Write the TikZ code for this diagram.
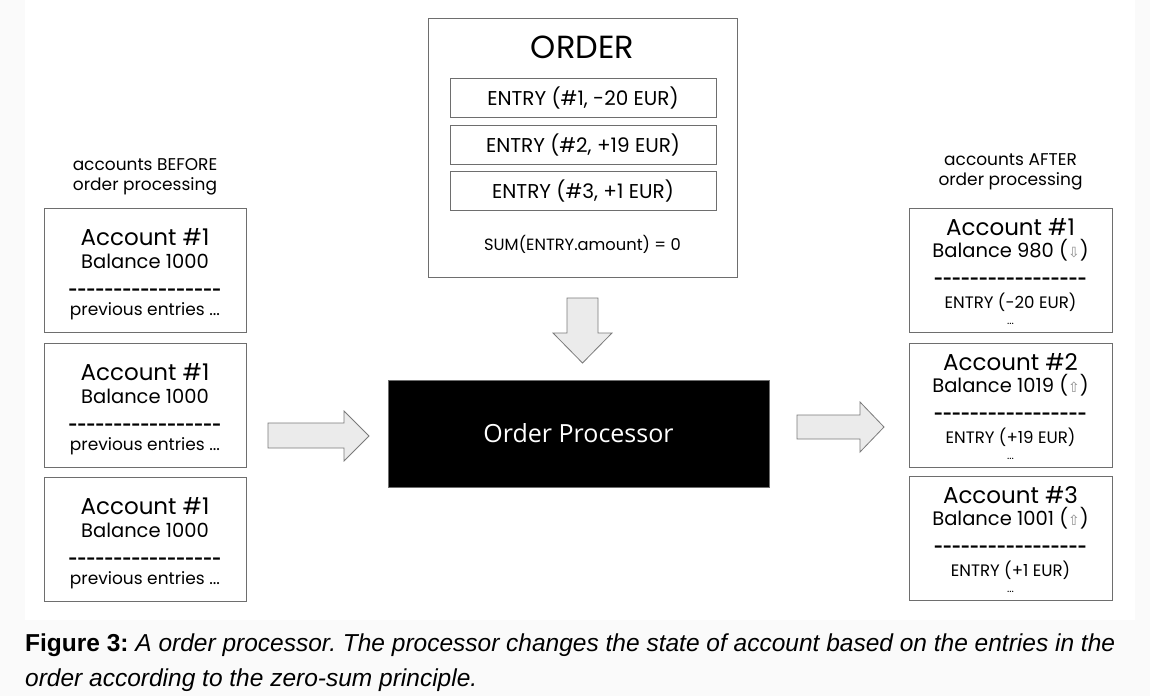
\documentclass[tikz,border=0pt]{standalone}
\usepackage{fontspec}
\setmainfont{Liberation Sans}
\newfontfamily\diagfont{Poppins}
\newfontfamily\procfont{Open Sans}
\newfontfamily\symfont{DejaVu Sans}
\definecolor{boxgrey}{HTML}{6E6E6E}
\definecolor{arrowgrey}{HTML}{7A7A7A}
\definecolor{arrowfill}{HTML}{EBEBEB}
\definecolor{pagegrey}{HTML}{FAFAFA}
\newcommand{\fsz}[1]{\fontsize{#1}{#1}\selectfont}
\newcommand{\dashrow}{-----------------}
\frenchspacing

\begin{document}
\begin{tikzpicture}[x=1pt, y=-1pt,
    acctbox/.style={draw=boxgrey, line width=1pt, fill=white, minimum width=202pt, minimum height=124pt, inner sep=0pt},
    entrybox/.style={draw=boxgrey, line width=1pt, minimum width=266pt, minimum height=39pt, inner sep=0pt},
    txt/.style={inner sep=0pt, anchor=base},
    blockarrow/.style={draw=arrowgrey, fill=arrowfill, line width=0.8pt, line join=miter}]
    \useasboundingbox (0,0) rectangle (1150,696);
    \fill[pagegrey] (0,0) rectangle (1150,696);
    \fill[white] (25,0) rectangle (1135,620);

    % accounts before
    \node[txt, font=\diagfont\fsz{17}] (beforelbl1) at (145,170) {accounts BEFORE};
    \node[txt, font=\diagfont\fsz{17}] (beforelbl2) at (145,190) {order processing};
    \foreach \i/\t in {1/208,2/343,3/477} {
        \node[acctbox] (before\i) at (145,\t+62) {};
        \node[txt, font=\diagfont\fsz{23}] (bname\i) at (145,\t+37) {Account \#1};
        \node[txt, font=\diagfont\fsz{19.5}] (bbal\i) at (145,\t+60) {Balance 1000};
        \node[txt, font=\diagfont\bfseries\fsz{15.5}] (bline\i) at (145,\t+87) {\dashrow};
        \node[txt, font=\diagfont\fsz{17}] (bprev\i) at (145,\t+107) {previous entries ...};
    }

    % order
    \node[draw=boxgrey, line width=1pt, minimum width=309pt, minimum height=259pt, inner sep=0pt] (order) at (582.5,147.5) {};
    \node[txt, font=\diagfont\fsz{32}] (ordertitle) at (582.5,58) {ORDER};
    \node[entrybox] (entry1) at (583,98) {};
    \node[entrybox] (entry2) at (583,145) {};
    \node[entrybox] (entry3) at (583,191) {};
    \node[font=\diagfont\fsz{20}, inner sep=0pt] at (entry1) {ENTRY (\#1, -20 EUR)};
    \node[font=\diagfont\fsz{20}, inner sep=0pt] at (entry2) {ENTRY (\#2, +19 EUR)};
    \node[font=\diagfont\fsz{20}, inner sep=0pt] at (entry3) {ENTRY (\#3, +1 EUR)};
    \node[txt, font=\diagfont\fsz{16.3}] (sum) at (582.5,250) {SUM(ENTRY.amount) = 0};

    % processor
    \node[fill=black, draw=boxgrey, minimum width=381pt, minimum height=107pt, inner sep=0pt,
        text=white, font=\procfont\fsz{25}] (proc) at (578.5,433.5) {Order Processor};

    % block arrows
    \draw[blockarrow] (567,298) -- (598,298) -- (598,333) -- (612,333) -- (582.5,363)
        -- (553,333) -- (567,333) -- cycle;
    \draw[blockarrow] (268,423) -- (344,423) -- (344,411) -- (369,436) -- (344,461)
        -- (344,448) -- (268,448) -- cycle;
    \draw[blockarrow] (797,415) -- (860,415) -- (860,402) -- (884,427) -- (860,452)
        -- (860,439) -- (797,439) -- cycle;

    % accounts after
    \node[txt, font=\diagfont\fsz{17}] (afterlbl1) at (1010.5,165) {accounts AFTER};
    \node[txt, font=\diagfont\fsz{17}] (afterlbl2) at (1010.5,185) {order processing};
    \foreach \i/\t/\bal/\arr/\amt in {1/208/980/⇩/-20,2/343/1019/⇧/+19,3/476/1001/⇧/+1} {
        \node[acctbox, minimum width=203pt] (after\i) at (1010.5,\t+62) {};
        \node[txt, font=\diagfont\fsz{23}] (aname\i) at (1010.5,\t+27) {Account \#\i};
        \node[txt, font=\diagfont\fsz{19.5}] (abal\i) at (1010.5,\t+49) {Balance \bal\ ({\symfont\fsz{14}\textcolor{black!45}{\arr}})};
        \node[txt, font=\diagfont\bfseries\fsz{15.5}] (aline\i) at (1010.5,\t+76) {\dashrow};
        \node[txt, font=\diagfont\fsz{16.6}] (aentry\i) at (1010.5,\t+100) {ENTRY (\amt\ EUR)};
        \node[txt, font=\diagfont\fsz{11}] (adots\i) at (1010.5,\t+116) {...};
    }

    % caption
    \node[txt, anchor=base west, font=\fsz{24.5}] (caption1) at (25,651)
        {\textbf{Figure 3:} \textit{A order processor. The processor changes the state of account based on the entries in the}};
    \node[txt, anchor=base west, font=\fsz{24.5}] (caption2) at (25,686)
        {\textit{order according to the zero-sum principle.}};
\end{tikzpicture}
\end{document}
